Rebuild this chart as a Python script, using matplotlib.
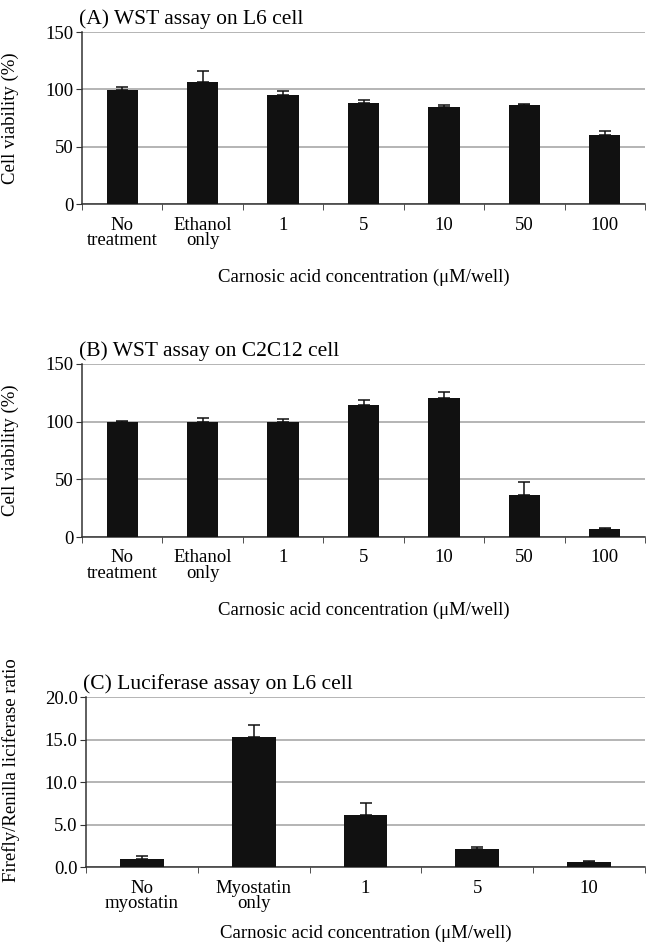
import matplotlib.pyplot as plt
import numpy as np

plt.rcParams['font.family'] = ['Liberation Serif', 'DejaVu Serif']
plt.rcParams['font.size'] = 13.5

# Panel A: WST assay on L6 cell
cats_a = ["No\ntreatment", "Ethanol\nonly", "1", "5", "10", "50", "100"]
vals_a = [99.6, 106.3, 95.2, 88.0, 85.0, 86.2, 60.3]
errs_a = [2.2, 9.3, 3.0, 2.6, 1.2, 0.6, 3.5]

# Panel B: WST assay on C2C12 cell
cats_b = ["No\ntreatment", "Ethanol\nonly", "1", "5", "10", "50", "100"]
vals_b = [99.6, 100.0, 100.0, 114.8, 120.9, 36.6, 7.2]
errs_b = [1.0, 3.0, 2.0, 4.3, 5.1, 11.3, 0.6]

# Panel C: Luciferase assay on L6 cell
cats_c = ["No\nmyostatin", "Myostatin\nonly", "1", "5", "10"]
vals_c = [0.94, 15.35, 6.14, 2.17, 0.59]
errs_c = [0.36, 1.35, 1.34, 0.19, 0.08]

W, H = 655, 947
fig = plt.figure(figsize=(W / 100, H / 100), dpi=100)


def px_axes(left, right, top, bottom):
    return fig.add_axes([left / W, 1 - bottom / H, (right - left) / W, (bottom - top) / H])


def panel(ax, cats, vals, errs, ymax, ystep, fmt, title, ylabel, ylab_xy):
    x = np.arange(len(cats))
    ax.bar(x, vals, width=0.39, color="#111111", zorder=3,
           yerr=[np.zeros(len(errs)), errs], capsize=4,
           error_kw=dict(ecolor="#111111", elinewidth=1.1, capthick=1.1, zorder=4))
    ax.set_xlim(-0.5, len(cats) - 0.5)
    ax.set_ylim(0, ymax)
    ticks = np.arange(0, ymax + ystep / 2, ystep)
    ax.set_yticks(ticks)
    ax.set_yticklabels([fmt.format(t) for t in ticks])
    ax.yaxis.grid(True, color="#a0a0a0", linewidth=1.1, zorder=0)
    ax.set_xticks(x)
    ax.set_xticklabels(cats, linespacing=0.9)
    ax.set_xticks(np.arange(-0.5, len(cats)), minor=True)
    ax.tick_params(axis="x", which="major", length=0, pad=9)
    ax.tick_params(axis="x", which="minor", length=4, direction="out", color="#333333")
    ax.tick_params(axis="y", length=4, color="#333333", pad=2)
    for s in ["top", "right"]:
        ax.spines[s].set_visible(False)
    for s in ["left", "bottom"]:
        ax.spines[s].set_color("#333333")
        ax.spines[s].set_linewidth(1.1)
    ax.set_title(title, loc="left", x=-0.006, pad=6, fontsize=15.5)
    ax.set_ylabel(ylabel)
    ax.yaxis.set_label_coords(*ylab_xy)
    ax.set_xlabel("Carnosic acid concentration (\u03bcM/well)", labelpad=14)


ax_a = px_axes(82, 645, 32, 204)
panel(ax_a, cats_a, vals_a, errs_a, 150, 50, "{:.0f}", "(A) WST assay on L6 cell",
      "Cell viability (%)", (-0.112, 0.5))

ax_b = px_axes(82, 645, 364, 537)
panel(ax_b, cats_b, vals_b, errs_b, 150, 50, "{:.0f}", "(B) WST assay on C2C12 cell",
      "Cell viability (%)", (-0.112, 0.5))

ax_c = px_axes(86, 645, 697, 867)
panel(ax_c, cats_c, vals_c, errs_c, 20, 5, "{:.1f}", "(C) Luciferase assay on L6 cell",
      "Firefly/Renilla liciferase ratio", (-0.118, 0.57))
ax_c.xaxis.labelpad = 9

fig.savefig("out.png", dpi=100)
